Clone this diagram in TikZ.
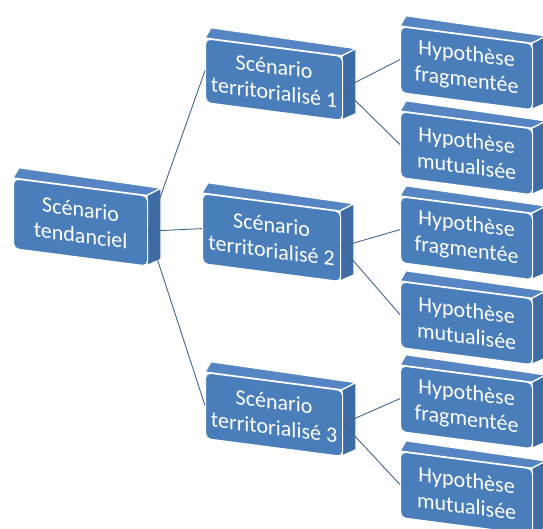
\documentclass[tikz,border=0pt]{standalone}
\usepackage{fontspec}
\setmainfont{Carlito}
\definecolor{frontc}{HTML}{4A7EBB}
\definecolor{topc}{HTML}{5585C2}
\definecolor{sidec}{HTML}{3D6CA6}
\definecolor{linec}{HTML}{45648C}
\tikzset{
  frontbox/.style={draw=white, line width=1.2pt, fill=frontc, rounded corners=5pt,
    text=white, align=center, inner sep=0pt, transform shape,
    font=\fontsize{22}{26}\selectfont},
  topface/.style={fill=topc, draw=white, line width=1.2pt, line join=round},
  sideface/.style={fill=sidec, draw=white, line width=1.2pt, line join=round},
  conn/.style={draw=linec, line width=0.9pt}
}
\newcommand\mybox[6]{%
  \begin{scope}[shift={(#2,#3)}, yslant=-0.13]
    \path[topface] (0,0) -- (6,-11) -- ({#4+14},-9) -- (#4,0) -- cycle;
    \path[sideface] (#4,0) -- ({#4+14},-9) -- ({#4+14},{#5-8}) -- (#4,#5) -- cycle;
    \node[frontbox, minimum width=#4pt, minimum height=#5pt, anchor=north west] (#1) at (0,0) {#6};
  \end{scope}}
\begin{document}
\begin{tikzpicture}[x=1pt,y=-1pt]
\useasboundingbox[fill=white] (0,0) rectangle (543,529);
\clip (0,0) rectangle (543,529);
% level 3
\mybox{f1}{400}{26}{132}{66}{Hypothèse\\fragmentée}
\mybox{m1}{400}{111}{132}{66}{Hypothèse\\mutualisée}
\mybox{f2}{400}{196}{132}{66}{Hypothèse\\fragmentée}
\mybox{m2}{400}{281}{132}{66}{Hypothèse\\mutualisée}
\mybox{f3}{400}{365}{132}{66}{Hypothèse\\fragmentée}
\mybox{m3}{400}{451}{132}{66}{Hypothèse\\mutualisée}
% level 2
\mybox{s1}{205}{38}{137}{64}{Scénario\\territorialisé 1}
\mybox{s2}{202}{193}{138}{70}{Scénario\\territorialisé 2}
\mybox{s3}{205}{372}{137}{66}{Scénario\\territorialisé 3}
% root
\mybox{r}{13}{178}{134}{70}{Scénario\\tendanciel}
% connectors
\draw[conn] (r.east) -- (s1.west);
\draw[conn] (r.east) -- (s2.west);
\draw[conn] (r.east) -- (s3.west);
\draw[conn] (s1.east) -- (f1.west);
\draw[conn] (s1.east) -- (m1.west);
\draw[conn] (s2.east) -- (f2.west);
\draw[conn] (s2.east) -- (m2.west);
\draw[conn] (s3.east) -- (f3.west);
\draw[conn] (s3.east) -- (m3.west);
\end{tikzpicture}
\end{document}
